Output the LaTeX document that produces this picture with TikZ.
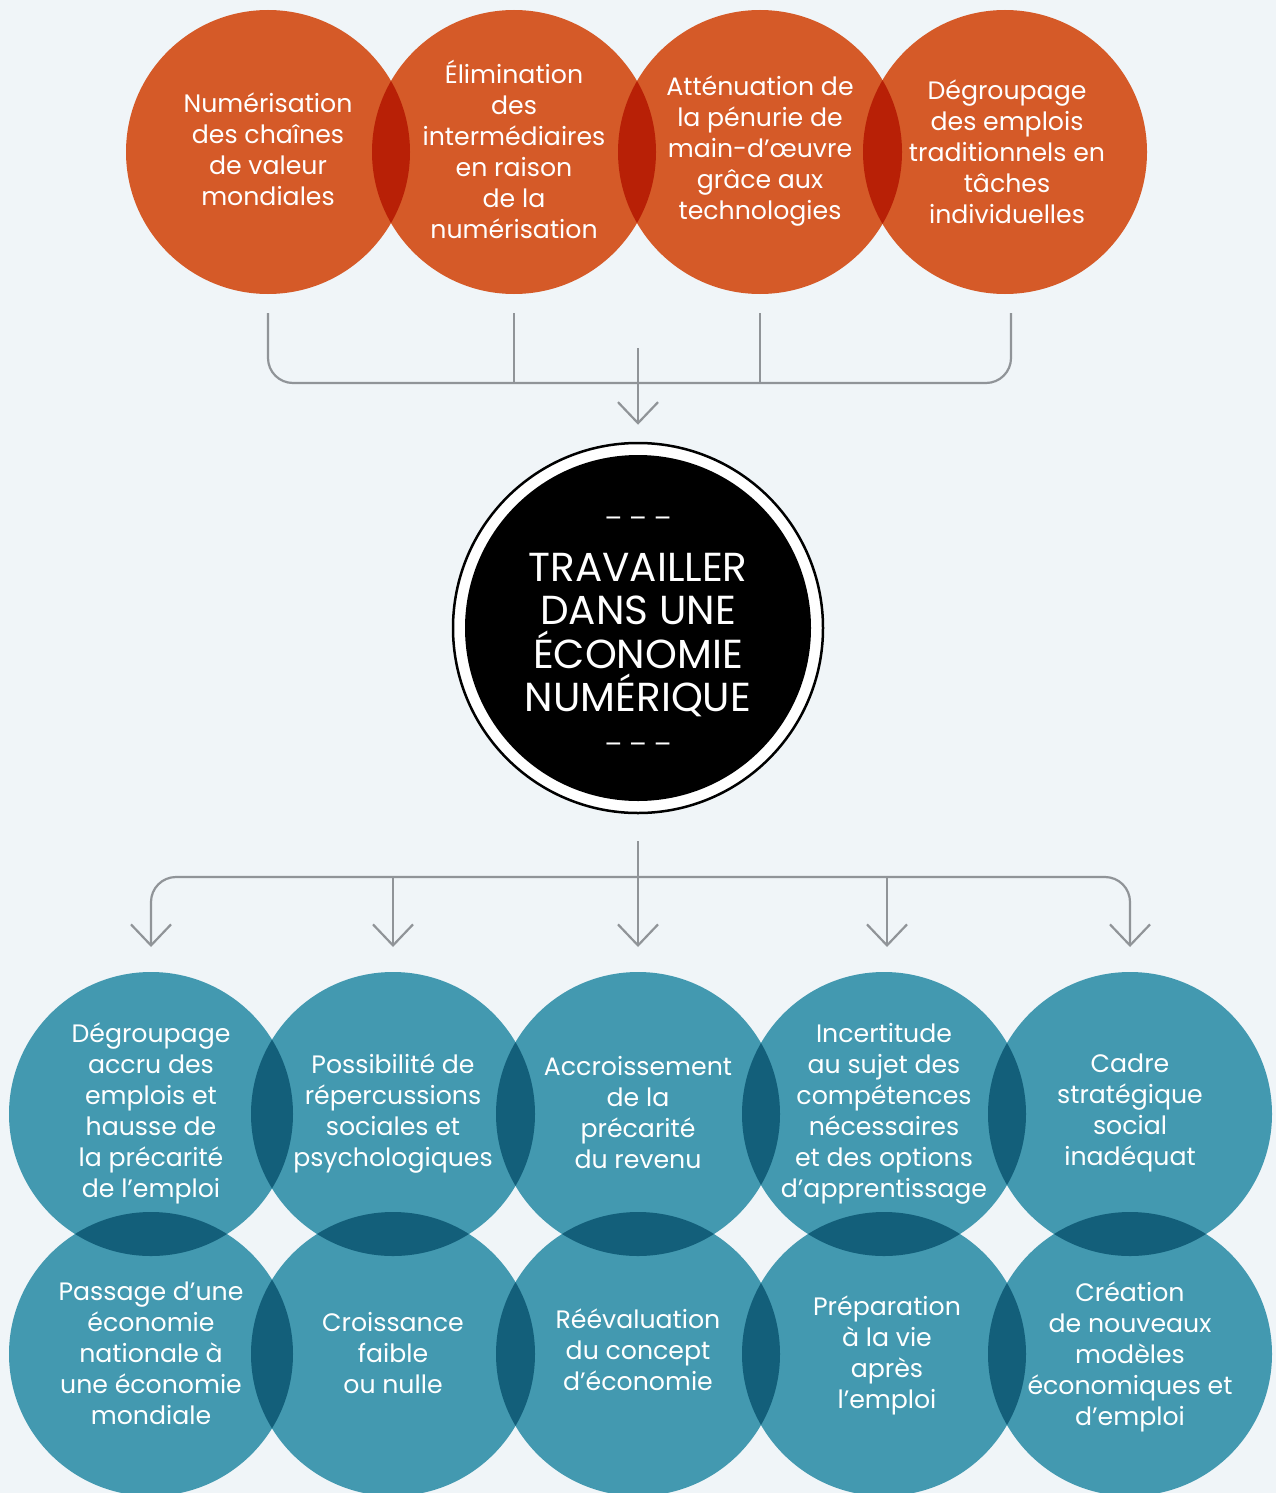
\documentclass[tikz,border=0pt]{standalone}
\usepackage{fontspec}
\setmainfont{Poppins}
\usetikzlibrary{arrows.meta,calc}

\definecolor{paper}{HTML}{F0F5F8}
\definecolor{rust}{HTML}{D55A28}
\definecolor{rustdeep}{HTML}{B82006}
\definecolor{sea}{HTML}{4399B0}
\definecolor{seadeep}{HTML}{135F7A}
\definecolor{wire}{HTML}{909498}

% darker lens where two discs overlap
\newcommand\overlaplens[3]{%
  \begin{scope}
    \clip (#1.center) circle[radius=142pt];
    \fill[#3] (#2.center) circle[radius=142pt];
  \end{scope}}

\tikzset{
  disc/.style={circle, minimum size=284pt, inner sep=0pt, outer sep=0pt},
  rustdisc/.style={disc, fill=rust},
  seadisc/.style={disc, fill=sea},
  txt/.style={text=white, align=center, inner sep=0pt, font=\fontsize{25.2}{31}\selectfont},
  conn/.style={draw=wire, line width=2.2pt},
  tipv/.style={-{Straight Barb[length=21pt,width=40pt]}},
}

\begin{document}
\begin{tikzpicture}[x=1pt,y=-1pt]
\useasboundingbox (0,0) rectangle (1276,1493);
\fill[paper] (0,0) rectangle (1276,1493);
\clip (0,0) rectangle (1276,1493);

% ---- top row: causes
\node[rustdisc] (t1) at (268,152) {};
\node[rustdisc] (t2) at (514,152) {};
\node[rustdisc] (t3) at (760,152) {};
\node[rustdisc] (t4) at (1005,152) {};
\overlaplens{t1}{t2}{rustdeep}
\overlaplens{t2}{t3}{rustdeep}
\overlaplens{t3}{t4}{rustdeep}

\node[txt] (t1txt) at ($(t1.center)+(0,-3)$) {Numérisation\\des chaînes\\de valeur\\mondiales};
\node[txt] (t2txt) at ($(t2.center)+(0,-3)$) {Élimination\\des\\intermédiaires\\en raison\\de la\\numérisation};
\node[txt] (t3txt) at ($(t3.center)+(0,-1)$) {Atténuation de\\la pénurie de\\main-d’œuvre\\grâce aux\\technologies};
\node[txt] (t4txt) at ($(t4.center)+(2,0)$) {Dégroupage\\des emplois\\traditionnels en\\tâches\\individuelles};

% ---- bottom grid: consequences
\foreach \n/\x in {1/151,2/393,3/638,4/884,5/1130}{
  \node[seadisc] (b\n) at (\x,1114) {};
  \node[seadisc] (c\n) at (\x,1354) {};
}
\foreach \a/\b in {1/2,2/3,3/4,4/5}{
  \overlaplens{b\a}{b\b}{seadeep}
  \overlaplens{c\a}{c\b}{seadeep}
}
\foreach \a in {1,...,5}{
  \overlaplens{b\a}{c\a}{seadeep}
}

\node[txt] (b1txt) at ($(b1.center)+(0,-1)$) {Dégroupage\\accru des\\emplois et\\hausse de\\la précarité\\de l’emploi};
\node[txt] (b2txt) at (b2.center) {Possibilité de\\répercussions\\sociales et\\psychologiques};
\node[txt] (b3txt) at ($(b3.center)+(0,-1)$) {Accroissement\\de la\\précarité\\du revenu};
\node[txt] (b4txt) at (b4.center) {Incertitude\\au sujet des\\compétences\\nécessaires\\et des options\\d’apprentissage};
\node[txt] (b5txt) at ($(b5.center)+(0,-1)$) {Cadre\\stratégique\\social\\inadéquat};

\node[txt] (c1txt) at ($(c1.center)+(0,-1)$) {Passage d’une\\économie\\nationale à\\une économie\\mondiale};
\node[txt] (c2txt) at ($(c2.center)+(0,-1)$) {Croissance\\faible\\ou nulle};
\node[txt] (c3txt) at ($(c3.center)+(0,-4)$) {Réévaluation\\du concept\\d’économie};
\node[txt] (c4txt) at ($(c4.center)+(3,1)$) {Préparation\\à la vie\\après\\l’emploi};
\node[txt] (c5txt) at ($(c5.center)+(0,3)$) {Création\\de nouveaux\\modèles\\économiques et\\d’emploi};

% ---- central theme
\node[circle, fill=white, draw=black, line width=2.5pt, minimum size=370pt, inner sep=0pt] (core) at (638,628) {};
\fill[black] (core.center) circle[radius=173pt];
\node[text=white, align=center, inner sep=0pt, font=\fontsize{40.5}{43.5}\selectfont] (title) at ($(core.center)+(0,7)$)
  {TRAVAILLER\\DANS UNE\\ÉCONOMIE\\NUMÉRIQUE};
\node[text=white, inner sep=0pt, font=\fontsize{26}{26}\selectfont] (dashtop) at ($(core.center)+(0,-106)$) {– – –};
\node[text=white, inner sep=0pt, font=\fontsize{26}{26}\selectfont] (dashbot) at ($(core.center)+(0,120)$) {– – –};

% ---- connectors: causes into the theme
\coordinate (topbus) at (638,383);
\draw[conn, rounded corners=25pt] ($(t1.south)+(0,19)$) |- (topbus) -| ($(t4.south)+(6,19)$);
\draw[conn] ($(t2.south)+(0,19)$) -- (t2.south |- topbus);
\draw[conn] ($(t3.south)+(0,19)$) -- (t3.south |- topbus);
\draw[conn, tipv] ($(topbus)+(0,-35)$) -- ($(core.north)+(0,-17)$);

% ---- connectors: theme out to consequences
\coordinate (botbus) at (638,877);
\draw[conn] ($(core.south)+(0,27)$) -- (botbus);
\draw[conn, tipv] (botbus) -- ($(b3.north)+(0,-25)$);
\draw[conn, tipv, rounded corners=25pt] (botbus) -| ($(b1.north)+(0,-25)$);
\draw[conn, tipv, rounded corners=25pt] (botbus) -| ($(b5.north)+(0,-25)$);
\draw[conn, tipv] (b2.north |- botbus) -- ($(b2.north)+(0,-25)$);
\draw[conn, tipv] ($(b4.north |- botbus)+(3,0)$) -- ($(b4.north)+(3,-25)$);
\end{tikzpicture}
\end{document}
